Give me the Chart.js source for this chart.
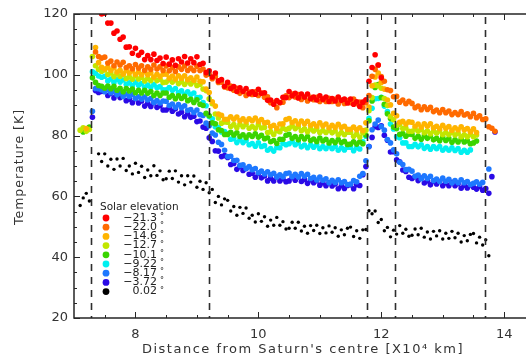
<!DOCTYPE html>
<html lang="en">
<head>
<meta charset="UTF-8">
<title>Ring temperature vs distance</title>
<script src="https://cdn.jsdelivr.net/npm/chart.js"></script>
<style>
  body { margin: 0; background: #fff; }
  #wrap { width: 530px; height: 358px; }
</style>
</head>
<body>
<div id="wrap"><canvas id="tempChart" width="530" height="358"></canvas></div>
<script>
// distance from Saturn's centre, 10^4 km (one row = 1.0)
const distance = [
  7.10, 7.15, 7.20, 7.25, 7.30, 7.35, 7.40, 7.45,
  7.50, 7.55, 7.60, 7.65, 7.70, 7.75, 7.80, 7.85, 7.90, 7.95, 8.00, 8.05, 8.10, 8.15, 8.20, 8.25, 8.30, 8.35, 8.40, 8.45,
  8.50, 8.55, 8.60, 8.65, 8.70, 8.75, 8.80, 8.85, 8.90, 8.95, 9.00, 9.05, 9.10, 9.15, 9.20, 9.25, 9.30, 9.35, 9.40, 9.45,
  9.50, 9.55, 9.60, 9.65, 9.70, 9.75, 9.80, 9.85, 9.90, 9.95, 10.00, 10.05, 10.10, 10.15, 10.20, 10.25, 10.30, 10.35, 10.40, 10.45,
  10.50, 10.55, 10.60, 10.65, 10.70, 10.75, 10.80, 10.85, 10.90, 10.95, 11.00, 11.05, 11.10, 11.15, 11.20, 11.25, 11.30, 11.35, 11.40, 11.45,
  11.50, 11.55, 11.60, 11.65, 11.70, 11.75, 11.80, 11.85, 11.90, 11.95, 12.00, 12.05, 12.10, 12.15, 12.20, 12.25, 12.30, 12.35, 12.40, 12.45,
  12.50, 12.55, 12.60, 12.65, 12.70, 12.75, 12.80, 12.85, 12.90, 12.95, 13.00, 13.05, 13.10, 13.15, 13.20, 13.25, 13.30, 13.35, 13.40, 13.45,
  13.50, 13.55, 13.60, 13.65, 13.70, 13.75, 13.80, 13.85, 13.90
];

const elevations = ['\u221221.3', '\u221222.0', '\u221214.6', '\u221212.7', '\u221210.1', '\u22129.22', '\u22128.17', '\u22123.72', '0.02'];
const colours = ['#ff0000', '#ff6a00', '#ffb400', '#c2e600', '#3ad400', '#00f0f0', '#1e78ff', '#2a0ae6', '#000000'];

const tempM213 = [
  null, null, null, null, null, null, null, 120.0,
  120.3, 117.0, 117.0, 113.7, 114.4, 111.7, 112.4, 109.1, 109.2, 107.1, 108.7, 106.4, 107.4, 105.0, 106.3, 105.0, 106.8, 104.7, 105.5, 103.7,
  105.8, 103.5, 104.9, 103.1, 105.3, 104.2, 106.0, 103.9, 105.3, 104.0, 105.9, 103.4, 103.8, 100.7, 101.3, 99.3, 100.6, 98.0, 98.4, 96.2,
  97.5, 95.5, 96.1, 94.5, 95.7, 94.6, 95.5, 93.8, 94.4, 93.6, 95.2, 93.9, 94.1, 91.6, 91.7, 90.3, 91.5, 90.9, 92.6, 92.5,
  94.5, 93.1, 93.9, 92.4, 93.7, 92.7, 93.7, 92.1, 92.7, 91.7, 93.1, 91.9, 92.7, 91.2, 92.2, 91.4, 92.7, 91.6, 92.0, 90.7,
  92.0, 90.3, 91.1, 89.6, 91.0, 91.8, 97.9, 102.4, 106.6, 103.2, 99.0, null, null, null, null, null, null, null, null, null,
  null, null, null, null, null, null, null, null, null, null, null, null, null, null, null, null, null, null, null, null,
  null, null, null, null, null, null, null, null, null
];
const tempM220 = [
  null, null, null, null, null, 107.5, 106.0, 105.5,
  105.8, 103.9, 104.5, 103.0, 104.2, 103.2, 104.1, 102.4, 103.0, 102.0, 103.4, 102.2, 103.0, 101.5, 102.6, 101.8, 103.2, 101.9, 102.6, 101.4,
  102.9, 101.3, 102.3, 101.1, 102.6, 101.8, 102.9, 101.4, 102.2, 101.4, 102.8, 101.4, 101.9, 99.9, 100.2, 98.7, 99.4, 97.5, 97.6, 96.0,
  95.7, 96.3, 94.9, 95.6, 93.9, 94.5, 93.2, 94.3, 93.5, 94.4, 93.2, 94.0, 92.6, 92.8, 90.8, 90.9, 89.2, 90.8, 91.0, 93.1,
  92.5, 93.7, 92.7, 93.5, 91.9, 92.6, 91.4, 92.6, 91.8, 92.6, 91.2, 92.1, 91.2, 92.3, 91.2, 91.9, 90.4, 91.6, 90.6, 91.5,
  90.8, 92.0, 90.5, 91.0, 89.2, 90.8, 93.2, 99.5, 101.8, 103.2, 99.4, 97.9, 95.1, 94.8, 92.8, 92.9, 91.0, 91.7, 90.5, 91.3,
  90.6, 89.2, 89.7, 88.5, 89.5, 88.6, 89.3, 87.9, 88.4, 87.5, 88.6, 87.5, 88.1, 86.9, 87.6, 86.9, 87.9, 86.8, 87.2, 86.2,
  87.3, 85.9, 86.5, 85.3, 85.5, 82.9, 82.4, 81.4, null
];
const tempM146 = [
  null, null, 82.3, null, null, 109.0, 104.0, 102.5,
  101.9, 102.5, 101.5, 102.3, 100.9, 101.5, 100.3, 101.4, 100.6, 101.3, 100.1, 100.9, 100.0, 101.0, 100.0, 100.6, 99.3, 100.2, 99.4, 100.2,
  100.2, 98.9, 99.6, 98.6, 99.7, 98.9, 99.7, 98.4, 99.0, 98.2, 99.3, 97.9, 97.7, 95.3, 94.2, 91.1, 89.7, 87.1, 86.7, 85.4,
  85.4, 86.2, 85.4, 86.1, 84.9, 85.5, 84.6, 85.5, 84.9, 85.8, 84.7, 85.3, 84.2, 84.4, 83.0, 83.4, 82.4, 83.8, 83.9, 85.3,
  85.6, 84.3, 84.9, 83.8, 84.8, 83.9, 84.7, 83.4, 83.9, 83.1, 84.2, 83.2, 83.8, 82.6, 83.4, 82.7, 83.7, 82.7, 83.1, 82.1,
  82.1, 82.8, 81.9, 82.6, 81.7, 84.2, 89.4, 96.4, 99.3, 100.6, 97.5, 95.3, 91.7, 90.1, 87.3, 86.5, 84.4, 84.7, 83.8, 84.5,
  84.4, 83.1, 83.8, 82.8, 83.9, 83.1, 83.9, 82.6, 83.1, 82.3, 83.4, 82.4, 83.0, 81.8, 82.6, 81.9, 82.9, 81.9, 82.3, 81.3,
  82.2, 81.0, null, null, null, null, null, null, null
];
const tempM127 = [
  81.8, 82.6, 81.4, 82.0, 106.0, 103.0, 101.8, 101.2,
  101.6, 100.1, 100.6, 99.4, 100.4, 99.5, 100.2, 98.8, 99.3, 98.5, 99.6, 98.6, 99.2, 98.0, 98.8, 98.1, 99.1, 98.1, 98.5, 97.5,
  97.6, 98.4, 97.6, 98.3, 97.1, 97.7, 96.8, 97.7, 97.0, 97.7, 96.5, 96.8, 95.3, 94.8, 92.1, 90.5, 87.1, 85.8, 84.1, 84.5,
  84.4, 83.0, 83.6, 82.6, 83.7, 82.9, 83.7, 82.4, 83.0, 82.4, 83.6, 82.5, 82.7, 81.0, 81.3, 80.4, 81.6, 81.3, 82.4, 82.0,
  82.4, 83.2, 82.3, 82.9, 81.6, 82.2, 81.3, 82.2, 81.5, 82.2, 81.0, 81.7, 81.0, 81.8, 80.9, 81.5, 80.3, 81.0, 80.3, 81.1,
  81.1, 79.8, 80.5, 79.5, 80.9, 81.8, 88.2, 92.5, 96.6, 96.4, 95.6, 92.2, 89.9, 86.3, 85.2, 83.4, 83.7, 82.3, 82.5, 81.4,
  81.4, 82.2, 81.4, 82.1, 80.9, 81.5, 80.6, 81.5, 80.8, 81.5, 80.3, 81.0, 80.3, 81.1, 80.2, 80.8, 79.6, 80.3, 79.6, 80.4,
  79.6, 80.2, null, null, null, null, null, null, null
];
const tempM101 = [
  null, 81.2, null, 82.8, 99.0, 97.5, 96.5, 96.2,
  95.6, 96.3, 95.4, 96.2, 94.9, 95.6, 94.4, 95.5, 94.7, 95.3, 94.1, 94.9, 94.0, 94.9, 93.9, 94.5, 93.2, 94.0, 93.2, 94.0,
  94.0, 92.6, 93.2, 92.1, 93.1, 92.2, 92.9, 91.5, 91.9, 90.9, 91.8, 90.3, 89.9, 87.3, 86.5, 84.2, 83.9, 81.9, 81.7, 80.4,
  80.4, 81.1, 80.2, 80.9, 79.7, 80.3, 79.4, 80.3, 79.7, 80.6, 79.5, 80.1, 79.0, 79.3, 78.0, 78.4, 77.4, 78.8, 78.8, 80.1,
  80.4, 79.1, 79.7, 78.6, 79.7, 78.9, 79.7, 78.4, 78.9, 78.1, 79.2, 78.2, 78.8, 77.6, 78.4, 77.7, 78.7, 77.7, 78.1, 77.1,
  77.2, 78.0, 77.2, 78.0, 77.3, 80.2, 84.9, 91.4, 95.8, 96.8, 92.5, 90.3, 87.2, 85.6, 82.8, 82.3, 80.4, 80.7, 79.8, 80.5,
  80.4, 79.1, 79.8, 78.8, 79.9, 79.1, 79.9, 78.6, 79.1, 78.3, 79.4, 78.4, 79.0, 77.8, 78.6, 77.9, 78.9, 77.9, 78.3, 77.3,
  77.6, 78.2, null, null, null, null, null, null, null
];
const tempM922 = [
  null, null, null, null, 101.0, 100.5, 99.6, 99.2,
  99.5, 98.0, 98.6, 97.5, 98.5, 97.6, 98.3, 96.9, 97.4, 96.5, 97.6, 96.6, 97.1, 95.9, 96.6, 95.9, 96.8, 95.8, 96.1, 95.1,
  95.1, 95.8, 94.9, 95.5, 94.2, 94.7, 93.6, 94.4, 93.5, 94.0, 92.5, 92.6, 90.9, 89.8, 86.3, 85.5, 82.9, 82.7, 81.2, 81.3,
  80.6, 78.8, 79.0, 77.7, 78.6, 77.7, 78.4, 77.0, 77.4, 76.5, 77.6, 76.4, 76.7, 75.2, 75.7, 74.9, 76.1, 76.0, 77.4, 77.0,
  77.3, 78.0, 77.0, 77.6, 76.3, 76.9, 76.0, 76.9, 76.2, 76.9, 75.7, 76.4, 75.7, 76.6, 75.7, 76.4, 75.2, 76.0, 75.3, 76.2,
  76.2, 75.0, 76.0, 75.6, 78.0, 79.8, 85.7, 89.0, 92.1, 92.2, 92.6, 89.7, 87.9, 83.8, 82.2, 79.6, 79.3, 77.6, 77.6, 76.4,
  76.4, 77.1, 76.3, 77.0, 75.8, 76.4, 75.5, 76.4, 75.7, 76.4, 75.2, 75.9, 75.2, 76.0, 75.1, 75.7, 74.5, 75.2, 74.5, 75.3,
  null, null, null, null, null, null, null, null, null
];
const tempM817 = [
  null, null, null, null, 88.0, 95.5, 95.4, 95.0,
  94.4, 95.1, 94.1, 94.7, 93.4, 93.9, 92.9, 93.7, 92.9, 93.5, 92.2, 92.8, 92.0, 92.7, 91.7, 92.2, 90.9, 91.5, 90.7, 91.4,
  91.3, 89.9, 90.4, 89.3, 90.2, 89.2, 89.8, 88.3, 88.6, 87.6, 88.4, 86.9, 86.6, 84.1, 83.2, 80.8, 80.2, 77.8, 77.1, 75.2,
  73.1, 73.2, 71.8, 71.9, 70.2, 70.4, 69.2, 69.8, 68.8, 69.2, 67.8, 68.3, 67.4, 68.1, 67.1, 67.6, 66.4, 67.1, 66.5, 67.5,
  67.7, 66.5, 67.3, 66.4, 67.5, 66.6, 67.3, 65.9, 66.3, 65.4, 66.4, 65.3, 65.8, 64.5, 65.3, 64.6, 65.5, 64.5, 64.9, 63.9,
  64.1, 65.2, 64.8, 66.6, 67.5, 71.7, 76.4, 81.9, 83.8, 85.1, 83.0, 81.8, 78.7, 77.6, 75.3, 74.0, 71.2, 70.5, 68.8, 68.9,
  68.3, 66.6, 67.0, 65.8, 66.8, 65.9, 66.6, 65.2, 65.7, 64.9, 66.0, 65.0, 65.6, 64.4, 65.2, 64.5, 65.5, 64.5, 64.9, 63.9,
  64.3, 64.8, 64.0, 64.6, null, 69.0, null, null, null
];
const tempM372 = [
  null, null, null, null, 86.0, 94.8, 94.2, 94.5,
  95.0, 93.2, 93.9, 92.4, 93.6, 92.5, 93.3, 91.5, 92.0, 90.8, 92.1, 90.7, 91.4, 89.7, 90.6, 89.6, 90.8, 89.3, 89.8, 88.4,
  88.4, 89.2, 88.0, 88.8, 87.1, 87.7, 86.2, 87.1, 86.0, 86.4, 84.6, 84.8, 82.8, 82.4, 79.3, 78.1, 75.0, 74.9, 73.1, 73.4,
  72.8, 70.5, 70.8, 68.9, 69.8, 68.5, 69.2, 67.3, 67.6, 66.3, 67.5, 66.1, 66.7, 65.1, 66.0, 65.1, 66.4, 65.1, 65.8, 64.8,
  65.1, 66.2, 65.3, 66.4, 64.9, 65.6, 64.3, 65.4, 64.5, 65.2, 63.7, 64.5, 63.5, 64.5, 63.4, 64.1, 62.5, 63.5, 62.6, 63.6,
  63.8, 62.5, 63.8, 63.6, 67.1, 69.8, 76.4, 79.4, 82.9, 82.7, 83.2, 80.1, 78.5, 74.6, 74.7, 72.0, 71.4, 68.7, 68.2, 66.3,
  65.9, 66.5, 65.2, 66.0, 64.4, 65.1, 63.8, 64.9, 64.1, 64.9, 63.5, 64.4, 63.5, 64.6, 63.5, 64.2, 62.7, 63.7, 62.8, 63.8,
  63.0, 62.4, 63.2, 62.0, 62.6, 61.0, 66.5, 81.2, null
];
const tempP002 = [
  57.0, 59.5, 61.0, 58.5, null, null, 74.0, 71.5,
  74.0, 70.0, 72.2, 68.9, 72.3, 70.0, 72.5, 68.5, 70.0, 67.4, 70.9, 67.9, 69.9, 66.2, 68.7, 66.8, 70.1, 66.9, 68.4, 65.5,
  65.8, 68.3, 65.9, 68.4, 64.7, 66.8, 63.8, 66.8, 64.7, 66.7, 63.0, 65.0, 62.3, 64.5, 61.2, 62.3, 58.0, 60.0, 57.2, 59.2,
  58.7, 55.2, 56.7, 53.8, 56.4, 54.4, 56.2, 52.8, 53.8, 51.6, 54.3, 51.8, 53.3, 50.2, 52.2, 50.5, 53.1, 50.5, 51.7, 49.3,
  49.5, 51.5, 49.5, 51.5, 48.6, 50.2, 47.9, 50.4, 48.8, 50.5, 47.8, 49.7, 48.0, 50.3, 48.2, 49.7, 46.9, 49.0, 47.4, 49.5,
  49.9, 46.8, 48.7, 46.2, 49.0, 49.1, 55.3, 54.3, 55.2, 51.4, 52.4, 48.7, 49.8, 46.7, 48.9, 47.6, 50.4, 47.9, 49.2, 46.9,
  47.2, 49.3, 47.4, 49.5, 46.6, 48.3, 46.0, 48.5, 47.0, 48.7, 46.0, 47.9, 46.2, 48.5, 46.4, 47.9, 45.0, 47.1, 45.4, 47.5,
  47.8, 44.7, 46.6, 44.0, 45.7, 40.5, null, null, null
];

const series = [tempM213, tempM220, tempM146, tempM127, tempM101, tempM922, tempM817, tempM372, tempP002];

// ring boundaries (dashed lines)
const ringEdges = [7.27, 9.20, 11.76, 12.22, 13.69];
const xTickValues = [8, 10, 12, 14];
const xMinorTicks = [7.5, 8.5, 9, 9.5, 10.5, 11, 11.5, 12.5, 13, 13.5];
const yTickValues = [20, 40, 60, 80, 100, 120];
const yMinorTicks = [25, 30, 35, 45, 50, 55, 65, 70, 75, 85, 90, 95, 105, 110, 115];

const ink = '#262626';

const decorations = {
  id: 'decorations',
  afterDatasetsDraw(chart) {
    const { ctx, chartArea: a, scales: { x, y } } = chart;
    ctx.save();

    // dashed ring boundaries
    ctx.strokeStyle = '#2e2e2e';
    ctx.lineWidth = 1.6;
    ctx.setLineDash([7, 6]);
    ringEdges.forEach(v => {
      const px = Math.round(x.getPixelForValue(v)) + 0.5;
      ctx.beginPath();
      ctx.moveTo(px, a.top + 3);
      ctx.lineTo(px, a.bottom);
      ctx.stroke();
    });
    ctx.setLineDash([]);

    // frame
    ctx.strokeStyle = ink;
    ctx.lineWidth = 1.5;
    ctx.beginPath();
    ctx.moveTo(a.right, a.top);
    ctx.lineTo(a.left, a.top);
    ctx.lineTo(a.left, a.bottom);
    ctx.lineTo(a.right, a.bottom);
    ctx.stroke();

    // inward ticks
    ctx.lineWidth = 1;
    const xTick = (v, len) => {
      const px = Math.round(x.getPixelForValue(v)) + 0.5;
      ctx.moveTo(px, a.bottom); ctx.lineTo(px, a.bottom - len);
      ctx.moveTo(px, a.top); ctx.lineTo(px, a.top + len);
    };
    const yTick = (v, len) => {
      const py = Math.round(y.getPixelForValue(v)) + 0.5;
      ctx.moveTo(a.left, py); ctx.lineTo(a.left + len, py);
    };
    ctx.beginPath();
    xTickValues.forEach(v => xTick(v, 6));
    xMinorTicks.forEach(v => xTick(v, 3));
    yTickValues.forEach(v => yTick(v, 6));
    yMinorTicks.forEach(v => yTick(v, 3));
    ctx.stroke();

    // legend box
    ctx.fillStyle = '#222';
    ctx.textBaseline = 'middle';
    ctx.font = '10.5px "DejaVu Sans"';
    ctx.textAlign = 'left';
    ctx.fillText('Solar elevation', 100, 207);
    chart.data.datasets.forEach((ds, i) => {
      const cy = 218 + i * 9.2;
      ctx.fillStyle = ds.backgroundColor;
      ctx.beginPath();
      ctx.arc(106, cy, 3.4, 0, Math.PI * 2);
      ctx.fill();
      ctx.fillStyle = '#222';
      ctx.font = '11px "DejaVu Sans"';
      ctx.textAlign = 'right';
      ctx.fillText(ds.label, 157, cy);
      ctx.textAlign = 'left';
      ctx.font = '8px "DejaVu Sans"';
      ctx.fillText('\u00b0', 160, cy - 1);
    });

    // axis titles
    ctx.fillStyle = '#333';
    ctx.font = '13px "DejaVu Sans"';
    ctx.textAlign = 'center';
    ctx.letterSpacing = '1.5px';
    ctx.fillText("Distance from Saturn's centre [X10\u2074 km]", 303, 350);
    ctx.translate(20, 167);
    ctx.rotate(-Math.PI / 2);
    ctx.font = '12.5px "DejaVu Sans"';
    ctx.letterSpacing = '1px';
    ctx.fillText('Temperature [K]', 0, 0);
    ctx.restore();
  }
};

new Chart(document.getElementById('tempChart'), {
  type: 'scatter',
  data: {
    datasets: series.map((vals, i) => ({
      label: elevations[i],
      data: distance.map((d, k) => ({ x: d, y: vals[k] })).filter(p => p.y !== null),
      backgroundColor: colours[i],
      borderWidth: 0,
      pointRadius: i === 8 ? 1.7 : 2.8,
      clip: 0
    }))
  },
  options: {
    responsive: false,
    animation: false,
    devicePixelRatio: 1,
    layout: { padding: { top: 14, left: 0, right: 0, bottom: 0 } },
    plugins: { legend: { display: false }, tooltip: { enabled: false } },
    scales: {
      x: {
        type: 'linear',
        min: 7,
        max: 14.355,
        grid: { display: false, drawTicks: false },
        border: { display: false },
        afterBuildTicks: s => { s.ticks = xTickValues.map(v => ({ value: v })); },
        afterFit: s => { s.height = 40; },
        ticks: { color: '#333', padding: 9, font: { family: 'DejaVu Sans', size: 13 } }
      },
      y: {
        min: 20,
        max: 120,
        grid: { display: false, drawTicks: false },
        border: { display: false },
        afterBuildTicks: s => { s.ticks = yTickValues.map(v => ({ value: v })); },
        afterFit: s => { s.width = 74; },
        ticks: { color: '#333', padding: 6, font: { family: 'DejaVu Sans', size: 13 } }
      }
    }
  },
  plugins: [decorations]
});
</script>
</body>
</html>
